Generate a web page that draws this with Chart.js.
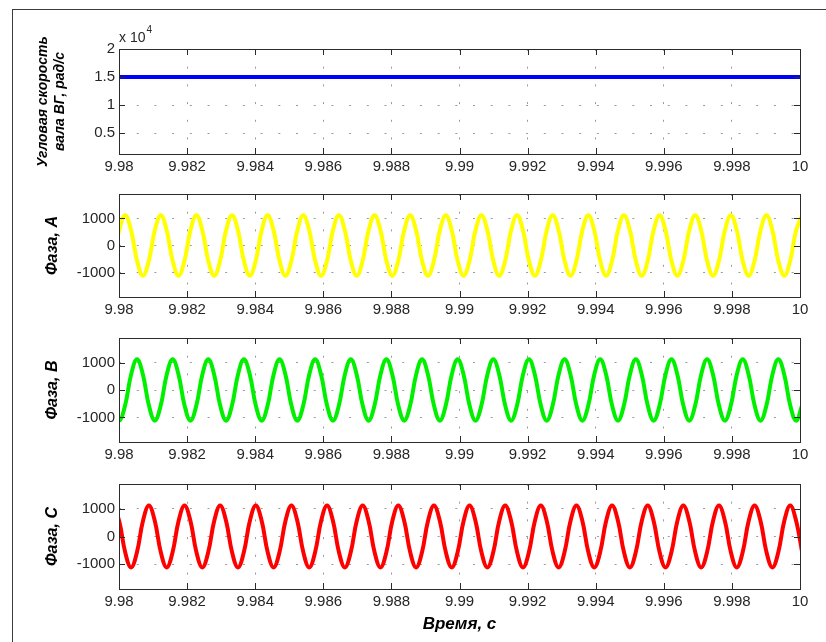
<!DOCTYPE html>
<html lang="ru">
<head>
<meta charset="utf-8">
<title>Угловая скорость вала ВГ и фазные токи</title>
<script src="https://cdn.jsdelivr.net/npm/chart.js@4.4.1/dist/chart.umd.min.js"></script>
<style>
  html, body { margin: 0; padding: 0; background: #fff; overflow: hidden; }
  #figure { position: relative; width: 826px; height: 642px; }
  #frame { position: absolute; left: 12px; top: 9px; right: 0; bottom: 0;
           border-left: 1px solid #3c3c3c; border-top: 1px solid #3c3c3c; }
  canvas { position: absolute; left: 0; }
</style>
</head>
<body>
<div id="figure">
  <div id="frame"></div>
  <canvas id="speedChart" width="826" height="184" style="top:10px"></canvas>
  <canvas id="phaseAChart" width="826" height="163" style="top:174px"></canvas>
  <canvas id="phaseBChart" width="826" height="164" style="top:318px"></canvas>
  <canvas id="phaseCChart" width="826" height="178" style="top:464px"></canvas>
</div>
<script>
/* ===== Data ===== */

// sample instants, s (one every 1/6 of a period)
const timeSec = [
  9.9798312, 9.9800056, 9.9801800, 9.9803544, 9.9805288,
  9.9807032, 9.9808776, 9.9810520, 9.9812264, 9.9814008,
  9.9815752, 9.9817496, 9.9819240, 9.9820984, 9.9822728,
  9.9824472, 9.9826216, 9.9827960, 9.9829704, 9.9831448,
  9.9833192, 9.9834936, 9.9836680, 9.9838424, 9.9840168,
  9.9841912, 9.9843656, 9.9845400, 9.9847144, 9.9848888,
  9.9850632, 9.9852376, 9.9854120, 9.9855864, 9.9857608,
  9.9859352, 9.9861096, 9.9862840, 9.9864584, 9.9866328,
  9.9868072, 9.9869816, 9.9871560, 9.9873304, 9.9875048,
  9.9876792, 9.9878536, 9.9880280, 9.9882024, 9.9883768,
  9.9885512, 9.9887256, 9.9889000, 9.9890744, 9.9892488,
  9.9894232, 9.9895976, 9.9897720, 9.9899464, 9.9901208,
  9.9902952, 9.9904696, 9.9906440, 9.9908184, 9.9909928,
  9.9911672, 9.9913416, 9.9915160, 9.9916904, 9.9918648,
  9.9920392, 9.9922136, 9.9923880, 9.9925624, 9.9927368,
  9.9929112, 9.9930856, 9.9932600, 9.9934344, 9.9936088,
  9.9937832, 9.9939576, 9.9941320, 9.9943064, 9.9944808,
  9.9946552, 9.9948296, 9.9950040, 9.9951784, 9.9953528,
  9.9955272, 9.9957016, 9.9958760, 9.9960504, 9.9962248,
  9.9963992, 9.9965736, 9.9967480, 9.9969224, 9.9970968,
  9.9972712, 9.9974456, 9.9976200, 9.9977944, 9.9979688,
  9.9981432, 9.9983176, 9.9984920, 9.9986664, 9.9988408,
  9.9990152, 9.9991896, 9.9993640, 9.9995384, 9.9997128,
  9.9998872, 10.0000616
];

const phaseA = [
  -560, 560, 1120, 560, -560, -1120,  -560, 560, 1120, 560, -560, -1120,
  -560, 560, 1120, 560, -560, -1120,  -560, 560, 1120, 560, -560, -1120,
  -560, 560, 1120, 560, -560, -1120,  -560, 560, 1120, 560, -560, -1120,
  -560, 560, 1120, 560, -560, -1120,  -560, 560, 1120, 560, -560, -1120,
  -560, 560, 1120, 560, -560, -1120,  -560, 560, 1120, 560, -560, -1120,
  -560, 560, 1120, 560, -560, -1120,  -560, 560, 1120, 560, -560, -1120,
  -560, 560, 1120, 560, -560, -1120,  -560, 560, 1120, 560, -560, -1120,
  -560, 560, 1120, 560, -560, -1120,  -560, 560, 1120, 560, -560, -1120,
  -560, 560, 1120, 560, -560, -1120,  -560, 560, 1120, 560, -560, -1120,
  -560, 560, 1120, 560, -560, -1120,
  -560, 560, 1120
];

const phaseB = [
  -560, -1120, -560, 560, 1120, 560,  -560, -1120, -560, 560, 1120, 560,
  -560, -1120, -560, 560, 1120, 560,  -560, -1120, -560, 560, 1120, 560,
  -560, -1120, -560, 560, 1120, 560,  -560, -1120, -560, 560, 1120, 560,
  -560, -1120, -560, 560, 1120, 560,  -560, -1120, -560, 560, 1120, 560,
  -560, -1120, -560, 560, 1120, 560,  -560, -1120, -560, 560, 1120, 560,
  -560, -1120, -560, 560, 1120, 560,  -560, -1120, -560, 560, 1120, 560,
  -560, -1120, -560, 560, 1120, 560,  -560, -1120, -560, 560, 1120, 560,
  -560, -1120, -560, 560, 1120, 560,  -560, -1120, -560, 560, 1120, 560,
  -560, -1120, -560, 560, 1120, 560,  -560, -1120, -560, 560, 1120, 560,
  -560, -1120, -560, 560, 1120, 560,
  -560, -1120, -560
];

const phaseC = [
  1120, 560, -560, -1120, -560, 560,  1120, 560, -560, -1120, -560, 560,
  1120, 560, -560, -1120, -560, 560,  1120, 560, -560, -1120, -560, 560,
  1120, 560, -560, -1120, -560, 560,  1120, 560, -560, -1120, -560, 560,
  1120, 560, -560, -1120, -560, 560,  1120, 560, -560, -1120, -560, 560,
  1120, 560, -560, -1120, -560, 560,  1120, 560, -560, -1120, -560, 560,
  1120, 560, -560, -1120, -560, 560,  1120, 560, -560, -1120, -560, 560,
  1120, 560, -560, -1120, -560, 560,  1120, 560, -560, -1120, -560, 560,
  1120, 560, -560, -1120, -560, 560,  1120, 560, -560, -1120, -560, 560,
  1120, 560, -560, -1120, -560, 560,  1120, 560, -560, -1120, -560, 560,
  1120, 560, -560, -1120, -560, 560,
  1120, 560, -560
];

// shaft angular speed, rad/s
const speedTime = [9.98, 9.984, 9.988, 9.992, 9.996, 10];
const speedValues = [15000, 15000, 15000, 15000, 15000, 15000];

const xTickValues = [9.98, 9.982, 9.984, 9.986, 9.988, 9.99, 9.992, 9.994, 9.996, 9.998, 10];
const xTickLabels = ['9.98', '9.982', '9.984', '9.986', '9.988', '9.99', '9.992', '9.994', '9.996', '9.998', '10'];
const speedTicks = [5000, 10000, 15000, 20000];
const speedTickLabels = ['0.5', '1', '1.5', '2'];
const phaseTicks = [-1000, 0, 1000];
const phaseTickLabels = ['-1000', '0', '1000'];

/* ===== Styling ===== */

Chart.defaults.font.family = '"Liberation Sans", Arial, sans-serif';
Chart.defaults.font.size = 15;
Chart.defaults.color = '#262626';

// MATLAB-like box with inward ticks, plus optional "x 10^4" multiplier
const axesBox = {
  id: 'axesBox',
  afterDraw(chart, args, opts) {
    const { ctx, chartArea: a, scales: { x, y } } = chart;
    ctx.save();
    ctx.strokeStyle = '#2b2b2b';
    ctx.lineWidth = 1;
    ctx.strokeRect(a.left + 0.5, a.top + 0.5, a.right - a.left, a.bottom - a.top);

    ctx.beginPath();
    x.ticks.forEach(t => {
      const px = Math.round(x.getPixelForValue(t.value)) + 0.5;
      ctx.moveTo(px, a.bottom); ctx.lineTo(px, a.bottom - 6);
      ctx.moveTo(px, a.top); ctx.lineTo(px, a.top + 6);
    });
    y.ticks.forEach(t => {
      const py = Math.round(y.getPixelForValue(t.value)) + 0.5;
      ctx.moveTo(a.left, py); ctx.lineTo(a.left + 6, py);
      ctx.moveTo(a.right, py); ctx.lineTo(a.right - 6, py);
    });
    ctx.stroke();

    if (opts && opts.exponent) {
      ctx.fillStyle = '#262626';
      ctx.textBaseline = 'alphabetic';
      ctx.font = '14px "Liberation Sans", Arial, sans-serif';
      ctx.fillText('x 10', a.left, a.top - 7);
      const w = ctx.measureText('x 10').width;
      ctx.font = '10px "Liberation Sans", Arial, sans-serif';
      ctx.fillText(opts.exponent, a.left + w + 1, a.top - 16);
    }
    ctx.restore();
  }
};

function makePanel(canvasId, cfg) {
  const points = cfg.time.map((t, i) => ({ x: t, y: cfg.values[i] }));
  const ctx = document.getElementById(canvasId).getContext('2d');

  return new Chart(ctx, {
    type: 'line',
    data: {
      datasets: [{
        data: points,
        borderColor: cfg.color,
        borderWidth: 4,
        pointRadius: 0,
        tension: cfg.tension,
        fill: false
      }]
    },
    options: {
      responsive: false,
      animation: false,
      layout: { padding: { left: 0, right: 26, top: cfg.padTop, bottom: 0 } },
      plugins: {
        legend: { display: false },
        tooltip: { enabled: false },
        axesBox: { exponent: cfg.exponent }
      },
      scales: {
        x: {
          type: 'linear',
          min: 9.98,
          max: 10,
          afterBuildTicks: s => { s.ticks = xTickValues.map(v => ({ value: v })); },
          afterFit: s => { s.height = cfg.xHeight; },
          ticks: {
            autoSkip: false,
            maxRotation: 0,
            padding: 4,
            callback: (v, i) => xTickLabels[i]
          },
          grid: { color: '#9a9a9a', lineWidth: 1, drawTicks: false },
          border: { display: false, dash: [2, 15.7] },
          title: cfg.xTitle ? {
            display: true,
            text: cfg.xTitle,
            color: '#000',
            font: { size: 17, weight: 'bold', style: 'italic' },
            padding: { top: 0, bottom: 7 }
          } : { display: false }
        },
        y: {
          min: cfg.yMin,
          max: cfg.yMax,
          afterBuildTicks: s => { s.ticks = cfg.yTicks.map(v => ({ value: v })); },
          afterFit: s => { s.width = 119; },
          ticks: {
            padding: 4,
            callback: (v, i) => cfg.yTickLabels[i]
          },
          grid: { color: '#9a9a9a', lineWidth: 1, drawTicks: false },
          border: { display: false, dash: [2, 15.7] },
          title: {
            display: true,
            text: cfg.yTitle,
            color: '#000',
            font: cfg.yTitleFont,
            padding: { top: cfg.yTitlePad, bottom: 0 }
          }
        }
      }
    },
    plugins: [axesBox]
  });
}

document.addEventListener('DOMContentLoaded', () => {
  makePanel('speedChart', {
    time: speedTime, values: speedValues, color: '#0000ff', tension: 0,
    padTop: 39, xHeight: 40, yMin: 1300, yMax: 20000,
    yTicks: speedTicks, yTickLabels: speedTickLabels,
    yTitle: ['Угловая скорость', 'вала ВГ, рад/с'],
    yTitleFont: { size: 14, weight: 'bold', style: 'italic', lineHeight: '17px' },
    yTitlePad: 35, exponent: '4'
  });

  const phaseFont = { size: 16, weight: 'bold', style: 'italic' };
  makePanel('phaseAChart', {
    time: timeSec, values: phaseA, color: '#ffff00', tension: 0.4,
    padTop: 20, xHeight: 40, yMin: -1900, yMax: 1900,
    yTicks: phaseTicks, yTickLabels: phaseTickLabels,
    yTitle: 'Фаза, А', yTitleFont: phaseFont, yTitlePad: 43
  });
  makePanel('phaseBChart', {
    time: timeSec, values: phaseB, color: '#00f000', tension: 0.4,
    padTop: 20, xHeight: 40, yMin: -1900, yMax: 1900,
    yTicks: phaseTicks, yTickLabels: phaseTickLabels,
    yTitle: 'Фаза, В', yTitleFont: phaseFont, yTitlePad: 43
  });
  makePanel('phaseCChart', {
    time: timeSec, values: phaseC, color: '#ff0000', tension: 0.4,
    padTop: 20, xHeight: 53, yMin: -1900, yMax: 1900,
    yTicks: phaseTicks, yTickLabels: phaseTickLabels,
    yTitle: 'Фаза, С', yTitleFont: phaseFont, yTitlePad: 43,
    xTitle: 'Время, с'
  });
});
</script>
</body>
</html>
